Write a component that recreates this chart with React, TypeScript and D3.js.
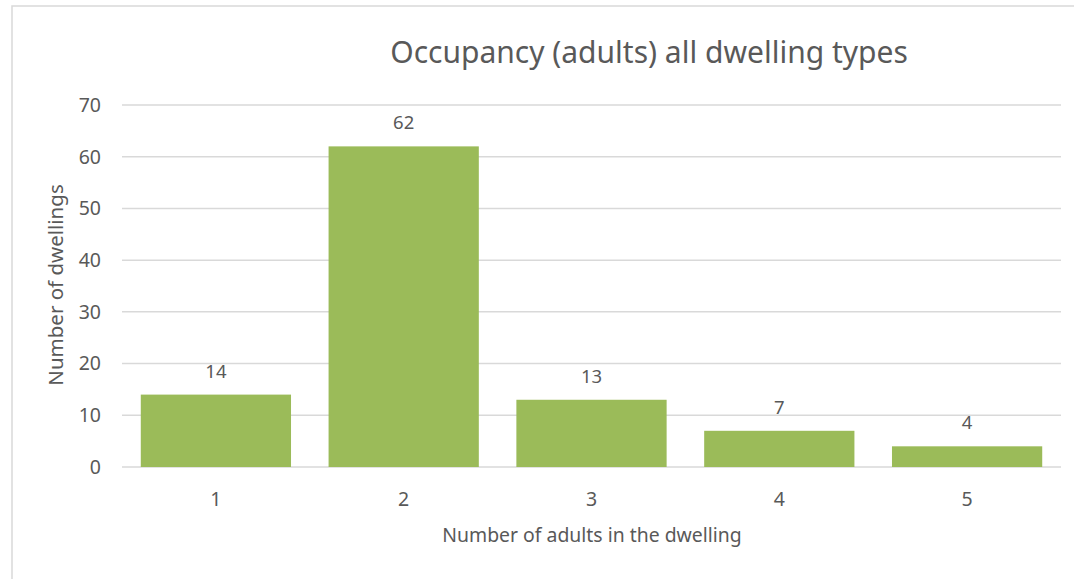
import * as d3 from 'd3'

const WIDTH = 1074
const HEIGHT = 579
const MARGIN = { top: 105, right: 13, bottom: 112, left: 122 }

const TITLE = 'Occupancy (adults) all dwelling types'
const X_LABEL = 'Number of adults in the dwelling'
const Y_LABEL = 'Number of dwellings'

const categories = ['1', '2', '3', '4', '5']
const dwellings = [14, 62, 13, 7, 4]
const yTicks = [0, 10, 20, 30, 40, 50, 60, 70]

const BAR_COLOR = '#9bbb59'
const GRID_COLOR = '#d9d9d9'
const TEXT_COLOR = '#595959'
const FONT = "'Noto Sans', 'Open Sans', sans-serif"

export default function App() {
  const x = d3
    .scaleBand<string>()
    .domain(categories)
    .range([MARGIN.left, WIDTH - MARGIN.right])
    .paddingInner(0.2)
    .paddingOuter(0.1)
  const y = d3.scaleLinear([0, 70], [HEIGHT - MARGIN.bottom, MARGIN.top])

  return (
    <svg
      width={WIDTH}
      height={HEIGHT}
      viewBox={`0 0 ${WIDTH} ${HEIGHT}`}
      style={{ position: 'absolute', left: 0, top: 0, background: '#fff' }}
      fontFamily={FONT}
    >
      {/* chart frame, only left/top edges fall inside the picture */}
      <rect x={12} y={6} width={WIDTH + 20} height={HEIGHT + 20} fill="#fff" stroke="#d9d9d9" strokeWidth={1.5} />

      <text x={649} y={63} textAnchor="middle" fontSize={30} fill={TEXT_COLOR}>
        {TITLE}
      </text>

      {yTicks.map((t) => (
        <g key={t}>
          <line
            x1={MARGIN.left}
            x2={WIDTH - MARGIN.right}
            y1={y(t)}
            y2={y(t)}
            stroke={GRID_COLOR}
            strokeWidth={1.5}
          />
          <text x={101} y={y(t)} dy="0.35em" textAnchor="end" fontSize={19.5} fill={TEXT_COLOR}>
            {t}
          </text>
        </g>
      ))}

      {categories.map((c, i) => (
        <g key={c}>
          <rect
            x={x(c)}
            y={y(dwellings[i])}
            width={x.bandwidth()}
            height={y(0) - y(dwellings[i])}
            fill={BAR_COLOR}
          />
          <text
            x={x(c)! + x.bandwidth() / 2}
            y={y(dwellings[i]) - 17}
            textAnchor="middle"
            fontSize={18.5}
            fill={TEXT_COLOR}
          >
            {dwellings[i]}
          </text>
          <text
            x={x(c)! + x.bandwidth() / 2}
            y={506}
            textAnchor="middle"
            fontSize={19.5}
            fill={TEXT_COLOR}
          >
            {c}
          </text>
        </g>
      ))}

      <text x={592} y={542} textAnchor="middle" fontSize={19.4} fill={TEXT_COLOR}>
        {X_LABEL}
      </text>
      <text
        transform={`translate(63,${285}) rotate(-90)`}
        textAnchor="middle"
        fontSize={20.5}
        fill={TEXT_COLOR}
      >
        {Y_LABEL}
      </text>
    </svg>
  )
}
